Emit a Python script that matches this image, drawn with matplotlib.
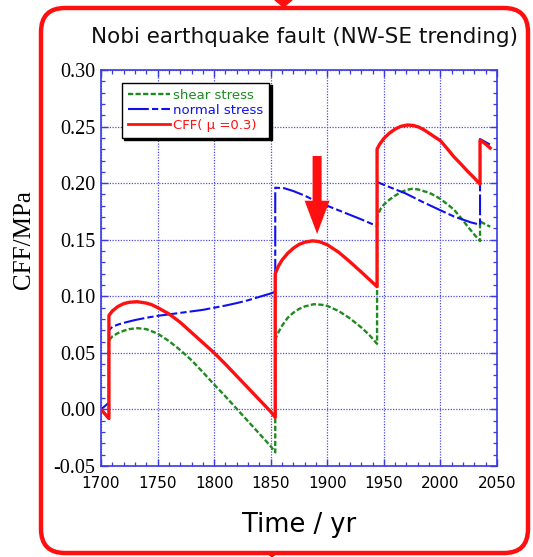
import matplotlib
matplotlib.use("Agg")
import matplotlib.pyplot as plt
from matplotlib.patches import FancyBboxPatch, Polygon
from matplotlib.lines import Line2D
from matplotlib.ticker import MultipleLocator, FormatStrFormatter

# ---------------- data ----------------
shear_years = [1700, 1707, 1707, 1710, 1715, 1720, 1725, 1732, 1740, 1745, 1750, 1760, 1770,
               1780, 1790, 1800, 1810, 1820, 1830, 1840, 1850, 1854,
               1854, 1857, 1860, 1865, 1870, 1875, 1880, 1888, 1895, 1900, 1910, 1920, 1930, 1937, 1944,
               1944, 1947, 1950, 1955, 1960, 1965, 1970, 1975, 1980, 1985, 1990, 1995, 2000, 2006,
               2012, 2018, 2024, 2030, 2035, 2035, 2040, 2044]
shear_stress = [0.000, -0.008, 0.061, 0.0645, 0.0675, 0.0695, 0.071, 0.0718, 0.071, 0.069, 0.067,
                0.0605, 0.0525, 0.0435, 0.033, 0.022, 0.0115, 0.0005, -0.0105, -0.0215, -0.0325, -0.038,
                0.062, 0.0685, 0.074, 0.081, 0.0855, 0.0888, 0.091, 0.093, 0.0925, 0.0915, 0.087, 0.0805,
                0.0725, 0.066, 0.058,
                0.1705, 0.177, 0.181, 0.1855, 0.189, 0.192, 0.194, 0.195, 0.1945, 0.193, 0.1915, 0.189,
                0.186, 0.1815, 0.1765, 0.1695, 0.1618, 0.1545, 0.1488, 0.1662, 0.1635, 0.1615]

normal_years = [1700, 1707, 1707, 1710, 1715, 1720, 1730, 1740, 1750, 1760, 1775, 1790, 1800,
                1810, 1820, 1830, 1840, 1850, 1854,
                1854, 1862, 1870, 1880, 1890, 1900, 1910, 1920, 1930, 1944,
                1944, 1955, 1969, 1984, 2000, 2012, 2027, 2035, 2035, 2044]
normal_stress = [0.000, 0.006, 0.070, 0.073, 0.075, 0.0765, 0.079, 0.081, 0.0827, 0.084, 0.086, 0.088,
                 0.0899, 0.0918, 0.094, 0.0965, 0.0995, 0.1025, 0.104,
                 0.196, 0.1955, 0.193, 0.189, 0.184, 0.180, 0.176, 0.172, 0.168, 0.162,
                 0.201, 0.1965, 0.191, 0.1835, 0.176, 0.1705, 0.1653, 0.1633, 0.239, 0.234]

cff_years = [1700, 1707, 1707, 1710, 1715, 1720, 1725, 1732, 1740, 1745, 1750, 1760, 1770, 1780,
             1790, 1800, 1810, 1820, 1830, 1840, 1850, 1854,
             1854, 1857, 1860, 1865, 1870, 1875, 1880, 1887, 1893, 1900, 1910, 1920, 1930, 1937, 1944,
             1944, 1946, 1950, 1955, 1960, 1965, 1971, 1976, 1981, 1986, 1992, 2000, 2006, 2012,
             2018, 2024, 2030, 2035, 2035, 2040, 2044]
cff = [0.000, -0.008, 0.083, 0.087, 0.091, 0.0935, 0.0947, 0.0952, 0.094, 0.0925, 0.090, 0.0845,
       0.077, 0.068, 0.059, 0.050, 0.040, 0.0295, 0.019, 0.0085, -0.002, -0.007,
       0.120, 0.127, 0.132, 0.138, 0.1425, 0.1458, 0.1478, 0.149, 0.1483, 0.1455, 0.139, 0.1305,
       0.1215, 0.115, 0.1085,
       0.230, 0.234, 0.2395, 0.2443, 0.2478, 0.2502, 0.2514, 0.251, 0.2495, 0.2468, 0.2428, 0.2375,
       0.2305, 0.2232, 0.217, 0.2105, 0.2045, 0.199, 0.238, 0.2345, 0.231]

arrow_year = 1891
arrow_from, arrow_to = 0.224, 0.155

title = "Nobi earthquake fault (NW-SE trending)"
xlabel = "Time / yr"
ylabel = "CFF/MPa"
labels = ["shear stress", "normal stress", "CFF( \u03bc =0.3)"]

# ---------------- styles ----------------
RED = "#ff1010"
GREEN = "#1f8a1f"
BLUE = "#1010ee"
AXBLUE = "#3a3ae6"

fig = plt.figure(figsize=(5.33, 5.57), dpi=100)
fig.patch.set_facecolor("white")

# rounded red frame
frame = FancyBboxPatch((41 / 533, 4 / 557), 487 / 533, 545 / 557,
                       boxstyle="round,pad=0,rounding_size=0.045",
                       transform=fig.transFigure, facecolor="none",
                       edgecolor=RED, linewidth=3.2, mutation_aspect=533 / 557)
fig.patches.append(frame)
fig.patches.append(Polygon([(275 / 533, 1.0), (292 / 533, 1.0), (283.5 / 533, 1 - 7 / 557)],
                           closed=True, transform=fig.transFigure, color=RED))
fig.patches.append(Polygon([(266 / 533, 5 / 557), (278 / 533, 5 / 557), (272 / 533, 0.0)],
                           closed=True, transform=fig.transFigure, color=RED))

ax = fig.add_axes([101 / 533, 1 - 466 / 557, 396 / 533, 396 / 557])
ax.set_xlim(1700, 2050)
ax.set_ylim(-0.05, 0.30)

ax.plot(shear_years, shear_stress, color=GREEN, lw=1.7, dashes=(2.2, 1.0), zorder=3)
ax.plot(normal_years, normal_stress, color=BLUE, lw=1.5, dashes=(10, 1.5, 3, 1.5), zorder=3)
ax.plot(cff_years, cff, color=RED, lw=2.4, zorder=4, solid_joinstyle="round")

ax.annotate("", xy=(arrow_year, arrow_to), xytext=(arrow_year, arrow_from),
            arrowprops=dict(arrowstyle="simple,head_width=1.8,head_length=2.4,tail_width=0.65",
                            color=RED, shrinkA=0, shrinkB=0, mutation_scale=10, lw=0),
            zorder=5)

# axes styling
for s in ax.spines.values():
    s.set_color(AXBLUE)
    s.set_linewidth(1.2)
ax.xaxis.set_major_locator(MultipleLocator(50))
ax.xaxis.set_minor_locator(MultipleLocator(10))
ax.yaxis.set_major_locator(MultipleLocator(0.05))
ax.yaxis.set_minor_locator(MultipleLocator(0.01))
ax.yaxis.set_major_formatter(FormatStrFormatter("%.2f"))
ax.tick_params(which="both", direction="in", top=True, right=True, color=AXBLUE)
ax.tick_params(which="major", length=5, width=1.0)
ax.tick_params(which="minor", length=3, width=0.9)
ax.tick_params(axis="x", labelsize=11, pad=7)
ax.tick_params(axis="y", labelsize=14.5, pad=4)
for t in ax.get_yticklabels():
    t.set_fontfamily("Liberation Serif")
for t in ax.get_xticklabels():
    t.set_fontfamily("DejaVu Sans")
ax.grid(True, which="major", color="#4b4bf0", linestyle=(0, (1, 1.2)), linewidth=0.9)
ax.set_axisbelow(True)

ax.set_xlabel(xlabel, fontsize=18.5, family="DejaVu Sans", labelpad=15)
ax.set_ylabel(ylabel, fontsize=18, family="Liberation Serif")
ax.yaxis.set_label_coords(-0.167, 0.571)
fig.text(91 / 533, 1 - 37 / 557, title, fontsize=15.5, family="DejaVu Sans",
         ha="left", va="center", color="#111111")

handles = [Line2D([], [], color=GREEN, lw=1.7, dashes=(2.2, 1.0)),
           Line2D([], [], color=BLUE, lw=1.5, dashes=(10, 1.5, 3, 1.5)),
           Line2D([], [], color=RED, lw=2.0)]
leg = ax.legend(handles, labels, loc="upper left", bbox_to_anchor=(0.052, 0.968),
                frameon=True, fancybox=False,
                shadow={"color": "black", "alpha": 1.0},
                handlelength=3.2, handletextpad=0.25, borderpad=0.45, labelspacing=0.15,
                borderaxespad=0, prop={"family": "DejaVu Sans", "size": 9.5})
leg.get_frame().set_edgecolor("black")
leg.get_frame().set_linewidth(1.0)
for txt, c in zip(leg.get_texts(), [GREEN, BLUE, RED]):
    txt.set_color(c)
leg.set_zorder(6)

fig.savefig("out.png", dpi=100)
